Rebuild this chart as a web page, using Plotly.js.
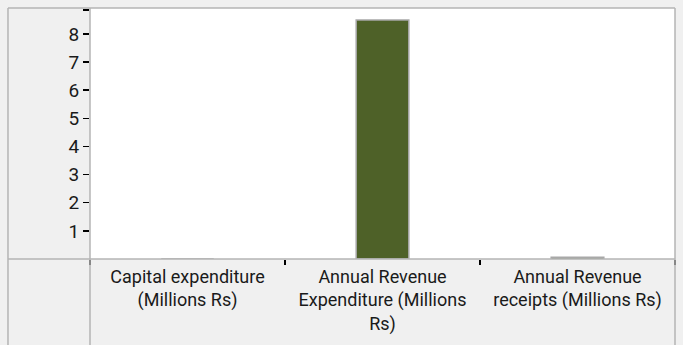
<!DOCTYPE html>
<html>
<head>
<meta charset="utf-8">
<script src="https://cdn.plot.ly/plotly-3.0.1.min.js"></script>
<style>html,body{margin:0;padding:0;background:#f0f0f0;}#chart{width:683px;height:345px;}</style>
</head>
<body>
<div id="chart"></div>
<script>
var categories = ["Capital expenditure<br>(Millions Rs)", "Annual Revenue<br>Expenditure (Millions<br>Rs)", "Annual Revenue<br>receipts (Millions Rs)"];
var values = [0, 8.49, 0.06];
var yTickVals = [1, 2, 3, 4, 5, 6, 7, 8, 8.85];
var yTickText = ["1", "2", "3", "4", "5", "6", "7", "8", ""];
var yMax = 8.92;

var border = "#b4b4b4";
var trace = {
  type: "bar",
  x: categories,
  y: values,
  width: 0.27,
  marker: {color: "#4e6128", line: {color: "#a8a8a8", width: 1.5}},
  hoverinfo: "none"
};
var lineStyle = {color: border, width: 1.5};
var layout = {
  width: 683, height: 345,
  margin: {l: 90, r: 8, t: 8, b: 86, pad: 0},
  paper_bgcolor: "#f0f0f0",
  plot_bgcolor: "#ffffff",
  font: {family: "Roboto, sans-serif", size: 18, color: "#1a1a1a"},
  showlegend: false,
  xaxis: {
    type: "category",
    tickson: "boundaries",
    ticks: "outside", ticklen: 5, tickwidth: 1.5, tickcolor: "#000",
    ticklabelstandoff: 5,
    showgrid: false, zeroline: false,
    showline: false,
    tickfont: {family: "Roboto, sans-serif", size: 18, color: "#1a1a1a"},
    fixedrange: true
  },
  yaxis: {
    range: [0, yMax],
    tickvals: yTickVals, ticktext: yTickText,
    ticks: "outside", ticklen: 6, tickwidth: 1.5, tickcolor: "#000",
    showgrid: false, zeroline: false, showline: false,
    tickfont: {family: "Roboto, sans-serif", size: 19, color: "#1a1a1a"},
    fixedrange: true
  },
  shapes: [
    {type: "line", xref: "paper", yref: "paper", x0: -0.1402, x1: 1, y0: 1, y1: 1, line: lineStyle},
    {type: "line", xref: "paper", yref: "paper", x0: -0.1402, x1: 1, y0: 0, y1: 0, line: lineStyle},
    {type: "line", xref: "paper", yref: "paper", x0: -0.1402, x1: -0.1402, y0: -0.3426, y1: 1, line: lineStyle},
    {type: "line", xref: "paper", yref: "paper", x0: 0, x1: 0, y0: -0.3426, y1: 1, line: lineStyle},
    {type: "line", xref: "paper", yref: "paper", x0: 1, x1: 1, y0: -0.3426, y1: 1, line: lineStyle}
  ]
};
Plotly.newPlot("chart", [trace], layout, {displayModeBar: false, staticPlot: true});
</script>
</body>
</html>
